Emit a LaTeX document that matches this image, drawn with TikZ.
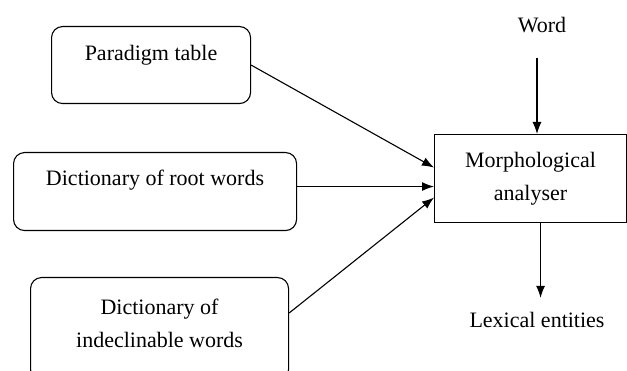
\documentclass[tikz,border=0pt]{standalone}
\usepackage{fontspec}
\setmainfont{Liberation Serif}
\usetikzlibrary{arrows.meta}

\begin{document}
\begin{tikzpicture}[x=1pt,y=1pt,line width=1.1pt,
    every node/.style={font=\fontsize{22}{33}\selectfont},
    src/.style={draw,rounded corners=11pt,inner sep=0pt,align=center,anchor=north west},
    arr/.style={-{Latex[length=12pt,width=9pt]}}]
    \useasboundingbox (0,0) rectangle (627,-371);
    \node[src,minimum width=199,text height=34,text depth=43] (para) at (51,-26) {Paradigm table};
    \node[src,minimum width=283,text height=33,text depth=45] (root) at (13,-152) {Dictionary of root words};
    \node[src,minimum width=258,text height=70,text depth=33] (indecl) at (30,-277) {Dictionary of\\indeclinable words};
    \node[draw,inner sep=0pt,align=center,anchor=north west,minimum width=192,text height=66,text depth=22] (morph) at (434,-134) {Morphological\\analyser};
    \node[anchor=base] (word) at (542,-33) {Word};
    \node[anchor=base] (lex) at (537,-328) {Lexical entities};
    \draw[arr] (para.east) -- ([yshift=11]morph.west);
    \draw[arr] ([yshift=5]root.east) -- ([yshift=-8]morph.west);
    \draw[arr] ([yshift=16]indecl.east) -- ([yshift=-19]morph.west);
    \draw[arr,shorten <=21pt] ([xshift=-5]word.south) -- ([xshift=-5]word.south |- morph.north);
    \draw[arr,shorten >=11pt] ([xshift=10]morph.south) -- ([xshift=10]morph.south |- lex.north);
\end{tikzpicture}
\end{document}
